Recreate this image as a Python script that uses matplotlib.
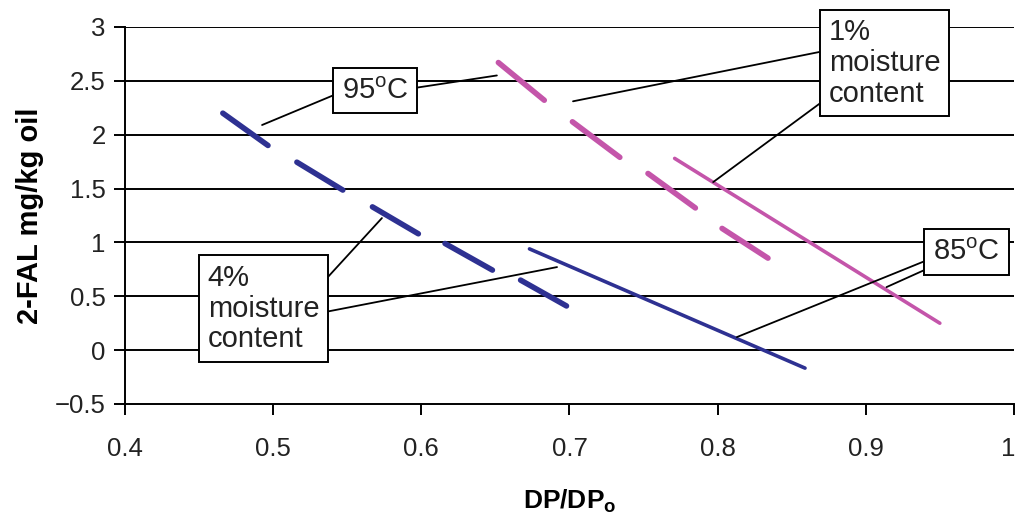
import matplotlib
matplotlib.use("Agg")
import matplotlib.pyplot as plt
from matplotlib.transforms import ScaledTranslation

plt.rcParams['font.family'] = ['Liberation Sans', 'DejaVu Sans']
plt.rcParams['mathtext.fontset'] = 'custom'
plt.rcParams['mathtext.rm'] = 'Liberation Sans'
plt.rcParams['mathtext.bf'] = 'Liberation Sans:bold'

# 95 C, 4 % moisture (short dotted segments, navy)
blue95_x = [[0.466, 0.4965], [0.516, 0.547], [0.567, 0.598], [0.616, 0.648], [0.667, 0.698]]
blue95_y = [[2.20, 1.90], [1.745, 1.486], [1.33, 1.08], [0.99, 0.743], [0.65, 0.41]]
# 95 C, 1 % moisture (short dotted segments, pink)
pink95_x = [[0.652, 0.683], [0.702, 0.734], [0.753, 0.785], [0.803, 0.834]]
pink95_y = [[2.67, 2.32], [2.12, 1.79], [1.64, 1.32], [1.13, 0.854]]
# 85 C lines
blue85_x = [0.673, 0.859]
blue85_y = [0.94, -0.167]
pink85_x = [0.771, 0.95]
pink85_y = [1.78, 0.25]

yticks = [-0.5, 0, 0.5, 1, 1.5, 2, 2.5, 3]
ytick_labels = ['\u22120.5', '0', '0.5', '1', '1.5', '2', '2.5', '3']
xticks = [0.4, 0.5, 0.6, 0.7, 0.8, 0.9, 1.0]
xtick_labels = ['0.4', '0.5', '0.6', '0.7', '0.8', '0.9', '1']

BLUE = '#2E3192'
PINK = '#C455AA'

fig = plt.figure(figsize=(10.19, 5.17), dpi=100)
ax = fig.add_axes([0.1227, 0.2186, 0.995 - 0.1227, 0.9478 - 0.2186])
ax.set_xlim(0.4, 1.0)
ax.set_ylim(-0.5, 3.0)

for y in yticks[1:]:
    ax.axhline(y, color='black', lw=1.4, zorder=1)

for xs, ys in zip(blue95_x, blue95_y):
    ax.plot(xs, ys, color=BLUE, lw=4.0, solid_capstyle='round', zorder=3)
for xs, ys in zip(pink95_x, pink95_y):
    ax.plot(xs, ys, color=PINK, lw=4.0, solid_capstyle='round', zorder=3)
ax.plot(blue85_x, blue85_y, color=BLUE, lw=2.6, solid_capstyle='round', zorder=3)
ax.plot(pink85_x, pink85_y, color=PINK, lw=2.6, solid_capstyle='round', zorder=3)

ax.spines['top'].set_visible(False)
ax.spines['right'].set_visible(False)
for s in ('left', 'bottom'):
    ax.spines[s].set_linewidth(1.4)

ax.set_yticks(yticks)
ax.set_yticklabels(ytick_labels)
ax.set_xticks(xticks)
ax.set_xticklabels(xtick_labels)
ax.tick_params(axis='both', direction='out', length=8, width=1.4,
               labelsize=18.5, colors='black', labelcolor='#222222')
ax.tick_params(axis='x', pad=16)
ax.tick_params(axis='y', pad=6)
lab = ax.get_xticklabels()[-1]
lab.set_transform(lab.get_transform() + ScaledTranslation(-4 / 72, 0, fig.dpi_scale_trans))

ax.set_xlabel(r'DP/DP$_\mathbf{o}$', fontsize=19, fontweight='bold', labelpad=19)
ax.set_ylabel('2-FAL mg/kg oil', fontsize=21, fontweight='bold', labelpad=8)

box = dict(boxstyle='square,pad=0.3', fc='white', ec='black', lw=1.4)
lp = dict(arrowstyle='-', color='black', lw=1.3, shrinkA=0, shrinkB=0)
fs = 21


def leader(t, rel, xy):
    ax.annotate('', xy=xy, xycoords='data', xytext=rel, textcoords=t,
                arrowprops=dict(lp), zorder=5)


def boxed(text, center):
    return ax.text(center[0], center[1], text, fontsize=fs, ha='center', va='center',
                   color='#222222', bbox=box, zorder=6, linespacing=1.12,
                   multialignment='left')


t95 = boxed(r'95$^{\mathrm{o}}$C', (0.569, 2.41))
leader(t95, (0, 0.46), (0.4925, 2.09))
leader(t95, (1, 0.56), (0.651, 2.55))

t1 = boxed('1%\nmoisture\ncontent', (0.9126, 2.665))
leader(t1, (0, 0.645), (0.7024, 2.31))
leader(t1, (0, 0.12), (0.797, 1.56))

t4 = boxed('4%\nmoisture\ncontent', (0.4935, 0.385))
leader(t4, (1, 0.75), (0.5734, 1.226))
leader(t4, (1, 0.45), (0.6916, 0.771))

t85 = boxed(r'85$^{\mathrm{o}}$C', (0.968, 0.91))
leader(t85, (0, 0.3), (0.813, 0.121))
leader(t85, (0, 0.0), (0.914, 0.585))

fig.savefig('out.png', dpi=100)
